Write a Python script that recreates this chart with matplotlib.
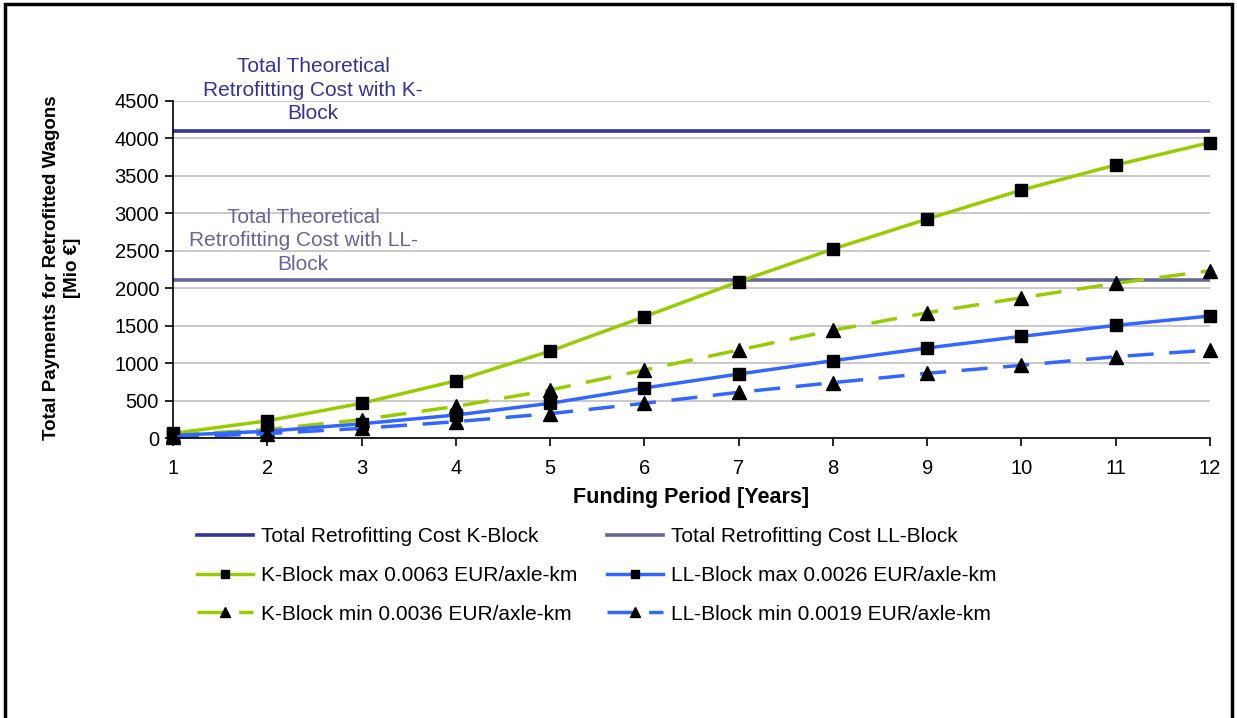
import matplotlib
matplotlib.use("Agg")
import matplotlib.pyplot as plt
from matplotlib.patches import Rectangle

plt.rcParams['font.family'] = ['Liberation Sans', 'DejaVu Sans']

years = [1, 2, 3, 4, 5, 6, 7, 8, 9, 10, 11, 12]
k_max = [62, 229, 463, 763, 1161, 1620, 2087, 2523, 2924, 3311, 3645, 3945]
k_min = [40, 112, 245, 422, 641, 908, 1175, 1438, 1673, 1873, 2065, 2234]
ll_max = [35, 90, 190, 307, 463, 668, 854, 1032, 1202, 1357, 1504, 1629]
ll_min = [10, 58, 129, 218, 325, 463, 610, 739, 864, 970, 1086, 1175]
k_total = 4100
ll_total = 2110
yticks = [0, 500, 1000, 1500, 2000, 2500, 3000, 3500, 4000, 4500]

GREEN = '#99cc00'
BLUE = '#3366ff'
KCOL = '#333399'
LLCOL = '#666699'
FS = 15

fig = plt.figure(figsize=(12.37, 7.18), dpi=100)
ax = fig.add_axes([173/1237, 1-438/718, (1210-173)/1237, (438-101)/718])

ax.set_xlim(1, 12)
ax.set_ylim(0, 4500)
ax.set_yticks(yticks)
ax.set_xticks(years)
ax.yaxis.grid(True, color='#c0c0c0', linewidth=1.2)
ax.set_axisbelow(True)
for s in ['top', 'right']:
    ax.spines[s].set_visible(False)
for s in ['left', 'bottom']:
    ax.spines[s].set_linewidth(1.2)
ax.tick_params(axis='both', direction='out', length=6, width=1.2, labelsize=14.5, pad=4)
ax.tick_params(axis='x', pad=9)

lw = 2.5
ms = 8.5
dash = (0, (7.5, 4.5))
h_k = ax.axhline(k_total, color=KCOL, lw=2.6, label='Total Retrofitting Cost K-Block')
h_ll = ax.axhline(ll_total, color=LLCOL, lw=2.6, label='Total Retrofitting Cost LL-Block')
h_kmax, = ax.plot(years, k_max, color=GREEN, lw=lw, marker='s', ms=ms, mfc='black', mec='black',
                  label='K-Block max 0.0063 EUR/axle-km', clip_on=False)
h_kmin, = ax.plot(years, k_min, color=GREEN, lw=lw, ls=dash, marker='^', ms=ms + 1, mfc='black', mec='black',
                  label='K-Block min 0.0036 EUR/axle-km', clip_on=False)
h_llmax, = ax.plot(years, ll_max, color=BLUE, lw=lw, marker='s', ms=ms, mfc='black', mec='black',
                   label='LL-Block max 0.0026 EUR/axle-km', clip_on=False)
h_llmin, = ax.plot(years, ll_min, color=BLUE, lw=lw, ls=dash, marker='^', ms=ms + 1, mfc='black', mec='black',
                   label='LL-Block min 0.0019 EUR/axle-km', clip_on=False)

fig.text(313/1237, 1-90/718, 'Total Theoretical\nRetrofitting Cost with K-\nBlock', color=KCOL,
         fontsize=FS, ha='center', va='center', linespacing=1.3)
fig.text(303/1237, 1-241/718, 'Total Theoretical\nRetrofitting Cost with LL-\nBlock', color=LLCOL,
         fontsize=FS, ha='center', va='center', linespacing=1.3)

fig.text(62/1237, 1-268/718, 'Total Payments for Retrofitted Wagons\n[Mio €]', rotation=90,
         fontsize=13.5, fontweight='bold', ha='center', va='center', linespacing=1.3)
fig.text(691/1237, 1-497/718, 'Funding Period [Years]', fontsize=15.5, fontweight='bold',
         ha='center', va='center')

handles = [h_k, h_kmax, h_kmin, h_ll, h_llmax, h_llmin]
leg = fig.legend(handles=handles, labels=[h.get_label() for h in handles], ncol=2,
                 loc='upper left', bbox_to_anchor=(197/1237, 1-527/718), frameon=False,
                 fontsize=FS, handlelength=2.7, handletextpad=0.35, columnspacing=1.45,
                 labelspacing=0.95, numpoints=1, markerscale=0.75, borderaxespad=0, borderpad=0)

fig.add_artist(Rectangle((5/1237, -0.1), (1232-5)/1237, 1.1 - 4/718, transform=fig.transFigure,
                         fill=False, edgecolor='black', linewidth=2.5))

fig.savefig('out.png', dpi=100)
